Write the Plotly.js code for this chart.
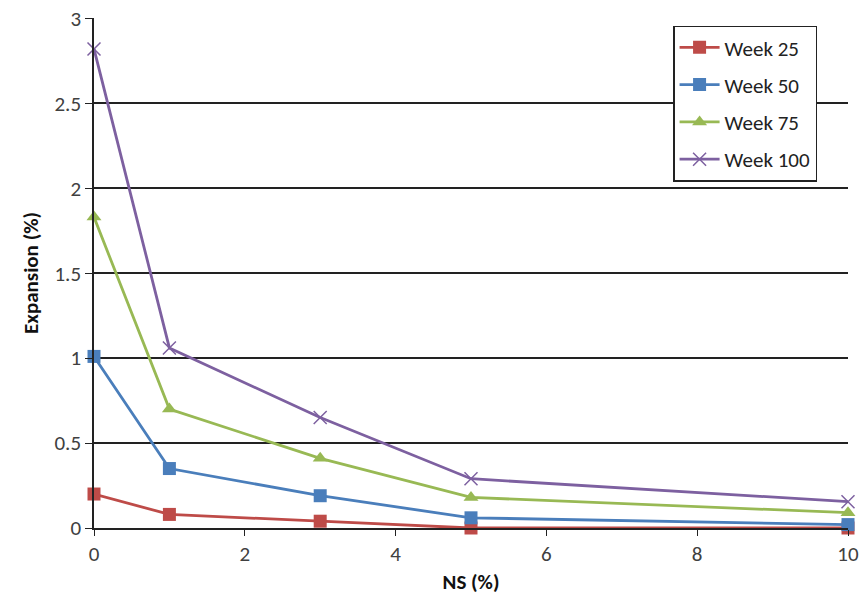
<!DOCTYPE html>
<html><head><meta charset="utf-8">
<script src="https://cdn.plot.ly/plotly-3.0.1.min.js"></script>
<style>body{margin:0;background:#fff}#c{width:859px;height:599px}</style>
</head><body><div id="c"></div>
<script>
const ns = [0, 1, 3, 5, 10];
const week25 = [0.20, 0.08, 0.04, 0.00, 0.00];
const week50 = [1.01, 0.35, 0.19, 0.06, 0.02];
const week75 = [1.83, 0.70, 0.41, 0.18, 0.09];
const week100 = [2.82, 1.06, 0.65, 0.29, 0.155];
const names = ['Week 25', 'Week 50', 'Week 75', 'Week 100'];
const xTicks = [0, 2, 4, 6, 8, 10];
const yTicks = [0, 0.5, 1, 1.5, 2, 2.5, 3];
const xTickText = ['0', '2', '4', '6', '8', '10'];
const yTickText = ['0', '0.5', '1', '1.5', '2', '2.5', '3'];

const series = [week25, week50, week75, week100];
const colors = ['#BE4B48', '#4A7EBB', '#98B954', '#7D60A0'];
const symbols = ['square', 'square', 'triangle-up', 'x-thin-open'];
const sizes = [13, 13, 13, 13];

const font = 'Carlito, Lato, "Open Sans", sans-serif';
const tickFont = {family: font, size: 21, color: '#404040'};
const traces = series.map((ys, i) => ({
  x: ns, y: ys, name: names[i], type: 'scatter', mode: 'lines+markers',
  legendgroup: 'g' + i,
  line: {color: colors[i], width: 2.8},
  marker: {symbol: symbols[i], size: sizes[i], color: colors[i],
           line: {color: colors[i], width: i === 3 ? 1.5 : 0}},
  cliponaxis: false
}));

const layout = {
  width: 859, height: 599,
  margin: {l: 94, r: 11, t: 18, b: 71},
  paper_bgcolor: '#fff', plot_bgcolor: '#fff',
  font: {family: font, size: 21, color: '#404040'},
  showlegend: true,
  legend: {x: 0.768, y: 0.985, xanchor: 'left', yanchor: 'top',
           bordercolor: '#222', borderwidth: 1.5, bgcolor: '#fff',
           font: {family: font, size: 21, color: '#222'},
           traceorder: 'grouped', tracegroupgap: 7, itemwidth: 40},
  xaxis: {range: [0, 10], tickmode: 'array', tickvals: xTicks, ticktext: xTickText,
          ticks: 'outside', ticklen: 6,
          tickcolor: '#222', showline: true, linecolor: '#222', linewidth: 1.5,
          showgrid: false, zeroline: false, tickfont: tickFont,
          title: {text: '<b>NS (%)</b>', standoff: 8, font: {family: font, size: 21, color: '#111'}}},
  yaxis: {range: [0, 3.002], tickmode: 'array', tickvals: yTicks, ticktext: yTickText,
          ticks: 'outside', ticklen: 7,
          tickcolor: '#222', showline: true, linecolor: '#222', linewidth: 1.5,
          showgrid: true, gridcolor: '#222', gridwidth: 1.5, zeroline: false,
          tickfont: tickFont, automargin: false,
          title: {text: '<b>Expansion (%)</b>', standoff: 10, font: {family: font, size: 21, color: '#111'}}}
};
Plotly.newPlot('c', traces, layout, {displayModeBar: false});
</script></body></html>
